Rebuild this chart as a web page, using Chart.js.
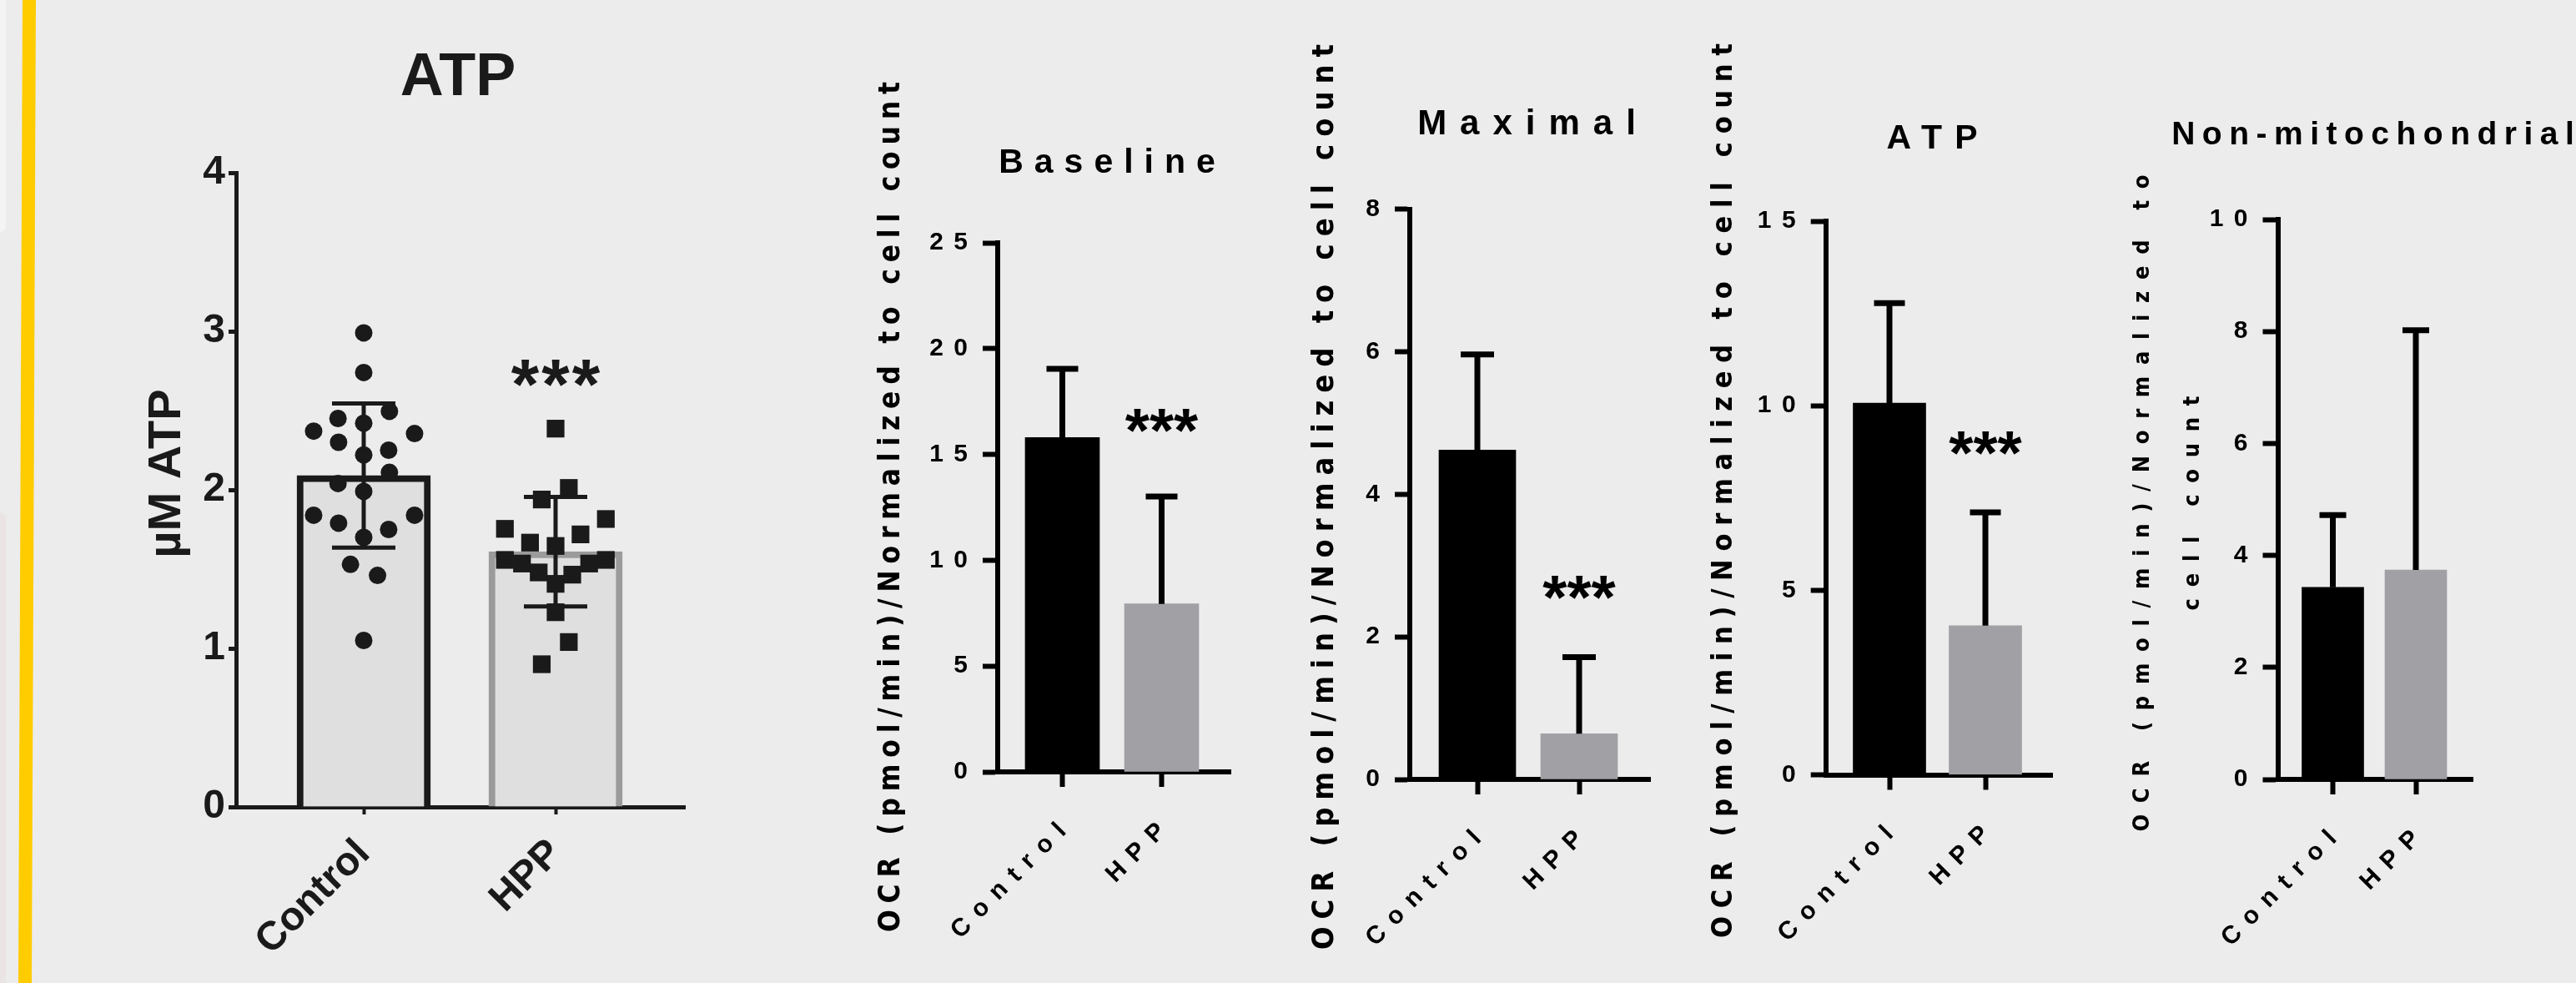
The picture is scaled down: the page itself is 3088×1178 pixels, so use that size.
<!DOCTYPE html>
<html lang="en">
<head>
<meta charset="utf-8">
<title>ATP and OCR</title>
<script src="https://cdn.jsdelivr.net/npm/chart.js@4/dist/chart.umd.min.js"></script>
<style>
html, body { margin:0; padding:0; width:3088px; height:1178px; overflow:hidden; background:#ececec; }
body { position:relative; }
.deco { position:absolute; }
canvas { position:absolute; top:0; }
</style>
</head>
<body>
<div class="deco" style="left:0;top:0;width:7px;height:278px;background:#f4f4f4;border-bottom-right-radius:10px;"></div>
<div class="deco" style="left:0;top:614px;width:7px;height:564px;background:#ebe4e4;border-top-right-radius:10px;"></div>
<div class="deco" style="left:0;top:0;width:60px;height:1178px;background:#ffcc00;clip-path:polygon(27px 0,43px 0,38px 1178px,22px 1178px);"></div>
<canvas id="c1"></canvas>
<canvas id="c2"></canvas>
<canvas id="c3"></canvas>
<canvas id="c4"></canvas>
<canvas id="c5"></canvas>
<script>
// ================= DATA =================
const categories = ['Control', 'HPP'];
const sigText = ['', '***'];

// Panel: ATP (µM), mean ± SD with individual values
const atpTicks = [0, 1, 2, 3, 4];
const atpMean = [2.09, 1.61];
const atpSD = [0.455, 0.345];
const atpControlValues = [2.99, 2.74, 2.495, 2.45, 2.42, 2.37, 2.355, 2.30, 2.25, 2.22, 2.11, 2.04, 1.99, 1.84, 1.84, 1.79, 1.75, 1.70, 1.53, 1.46, 1.05];
const atpControlJitter = [0, 0, 0.134, -0.134, 0, -0.261, 0.265, -0.131, 0.13, 0, 0.134, -0.134, 0, -0.261, 0.265, -0.131, 0.13, 0, -0.069, 0.072, 0];
const atpHppValues = [2.386, 2.012, 1.939, 1.816, 1.754, 1.719, 1.667, 1.646, 1.558, 1.558, 1.535, 1.535, 1.479, 1.465, 1.407, 1.228, 1.040, 0.900];
const atpHppJitter = [0, 0.069, -0.072, 0.262, -0.264, 0.130, -0.133, 0, -0.264, 0.262, -0.175, 0.175, -0.088, 0.087, 0, 0, 0.069, -0.072];
const atpSigAt = [null, 2.73];

// OCR panels (mean + SD)
const baselineTicks = [0, 5, 10, 15, 20, 25];
const baselineMean = [15.8, 7.94];
const baselineSD = [3.25, 5.07];
const baselineSigAt = [null, 16.56];

const maximalTicks = [0, 2, 4, 6, 8];
const maximalMean = [4.62, 0.64];
const maximalSD = [1.34, 1.075];
const maximalSigAt = [null, 2.68];

const atpOcrTicks = [0, 5, 10, 15];
const atpOcrMean = [10.07, 4.04];
const atpOcrSD = [2.71, 3.07];
const atpOcrSigAt = [null, 8.96];

const nonMitoTicks = [0, 2, 4, 6, 8, 10];
const nonMitoMean = [3.43, 3.74];
const nonMitoSD = [1.29, 4.28];
const nonMitoSigAt = [null, null];

const ocrAxisTitle = 'OCR (pmol/min)/Normalized to cell count';
const ocrAxisTitleWrapped = ['OCR (pmol/min)/Normalized to', 'cell count'];

// ================= STYLE / LAYOUT =================
const FONT = "'Liberation Sans', Arial, Helvetica, sans-serif";
const NARROW = "'Liberation Sans Narrow', 'Arial Narrow', 'DejaVu Sans Condensed', 'Liberation Sans', sans-serif";
const PAGE_H = 1178;
Chart.defaults.font.family = FONT;

function wrapDraw(obj, name, pre) {
  const orig = obj[name];
  obj[name] = function (...args) {
    const ctx = this.ctx;
    ctx.save();
    pre(ctx, this);
    try { return orig.apply(this, args); } finally { ctx.restore(); }
  };
}

const spacingPlugin = {
  id: 'spacing',
  beforeDraw(chart, args, o) {
    if (chart.$spacingDone) return;
    chart.$spacingDone = true;
    const xs = chart.scales.x, ys = chart.scales.y;
    const s = o.tick || 0;
    if (s) {
      wrapDraw(xs, 'drawLabels', ctx => { ctx.letterSpacing = s + 'px'; ctx.translate(s * Math.SQRT1_2, -s * Math.SQRT1_2); });
      wrapDraw(ys, 'drawLabels', ctx => { ctx.letterSpacing = s + 'px'; ctx.translate(s, 0); });
    }
    const ts = o.title || 0;
    if (chart.titleBlock) wrapDraw(chart.titleBlock, 'draw', ctx => { ctx.letterSpacing = ts + 'px'; ctx.translate(ts / 2, 0); });
    wrapDraw(ys, 'drawTitle', (ctx, sc) => {
      const t = sc.options.title, f = t.font;
      const lines = Array.isArray(t.text) ? t.text : [t.text];
      let sp = 0;
      if (o.yTitleLen) {
        ctx.font = `${f.style || 'normal'} ${f.weight || 'normal'} ${f.size}px ${f.family}`;
        ctx.letterSpacing = '0px';
        const w = ctx.measureText(lines[0]).width;
        sp = (o.yTitleLen - w) / (Array.from(lines[0]).length - 1);
      }
      ctx.letterSpacing = sp + 'px';
      const cy = (sc.top + sc.bottom) / 2;
      ctx.translate(0, o.yTitleCy - sp / 2 - cy);
    });
  }
};

const errPlugin = {
  id: 'errbars',
  afterDatasetsDraw(chart, args, o) {
    const ctx = chart.ctx, xs = chart.scales.x, ys = chart.scales.y;
    ctx.save();
    ctx.strokeStyle = o.color;
    ctx.lineWidth = o.width;
    ctx.lineCap = 'butt';
    o.mean.forEach((m, i) => {
      const x = xs.getPixelForValue(i);
      const yT = ys.getPixelForValue(m + o.sd[i]);
      const yB = ys.getPixelForValue(o.both ? m - o.sd[i] : m);
      ctx.beginPath();
      ctx.moveTo(x, yB); ctx.lineTo(x, yT);
      ctx.moveTo(x - o.cap / 2, yT); ctx.lineTo(x + o.cap / 2, yT);
      if (o.both) { ctx.moveTo(x - o.cap / 2, yB); ctx.lineTo(x + o.cap / 2, yB); }
      ctx.stroke();
    });
    ctx.restore();
  }
};

const sigPlugin = {
  id: 'sig',
  afterDatasetsDraw(chart, args, o) {
    if (!o.text) return;
    const ctx = chart.ctx, xs = chart.scales.x, ys = chart.scales.y;
    ctx.save();
    ctx.font = `bold ${o.size}px ${FONT}`;
    ctx.fillStyle = o.color;
    ctx.textAlign = 'center';
    ctx.textBaseline = 'alphabetic';
    ctx.letterSpacing = (o.spacing || 0) + 'px';
    o.text.forEach((t, i) => {
      if (!t || o.at[i] == null) return;
      const x = xs.getPixelForValue(i) + (o.spacing || 0) / 2;
      const y = ys.getPixelForValue(o.at[i]) + o.size * 0.48;
      ctx.fillText(t, x, y);
    });
    ctx.restore();
  }
};

function buildPanel(p) {
  const f = p.frame, st = p.style;
  const cl = f.cl, cr = 2 * f.titleCx - cl, W = cr - cl;
  const canvas = document.getElementById(p.id);
  canvas.width = W; canvas.height = PAGE_H; canvas.style.left = cl + 'px';
  const n = categories.length;
  const unit = f.cat[1] - f.cat[0];
  const xMin = -(f.cat[0] - f.plot.l) / unit;
  const xMax = (n - 1) + (f.plot.r - f.cat[n - 1]) / unit;
  const tLH = st.titleFont.size * 1.2;
  const tPadTop = f.titleCy - tLH / 2;
  const tPadBottom = f.plot.t - tPadTop - tLH;
  const yLH = st.yTitleLH || st.yTitleFont.size * 1.2;
  const yPadTop = f.yTitleCx - cl - yLH / 2;

  const datasets = [];
  (p.points || []).forEach((g, gi) => {
    datasets.push({
      type: 'scatter', xAxisID: 'x', yAxisID: 'y', order: 0,
      data: g.values.map((v, k) => ({ x: g.cat + g.jitter[k], y: v })),
      pointStyle: st.pointStyles[gi], pointRadius: st.pointRadii[gi], pointHoverRadius: st.pointRadii[gi],
      pointBackgroundColor: st.color, pointBorderWidth: 0
    });
  });
  datasets.push({
    type: 'bar', xAxisID: 'x', yAxisID: 'y', order: 1,
    data: categories.map((c, i) => ({ x: i, y: p.mean[i] })),
    backgroundColor: st.barFill, borderColor: st.barBorder, borderWidth: st.barBorderWidth,
    borderSkipped: 'start', barThickness: st.barWidth
  });

  return new Chart(canvas, {
    type: 'bar',
    data: { datasets },
    options: {
      responsive: false, animation: false, events: [],
      layout: { padding: 0 },
      plugins: {
        legend: { display: false },
        tooltip: { enabled: false },
        title: { display: true, fullSize: true, text: p.title, color: st.color,
                 font: Object.assign({}, st.titleFont, { lineHeight: 1.2 }),
                 padding: { top: tPadTop, bottom: tPadBottom } },
        errbars: { mean: p.mean, sd: p.sd, both: st.errBoth, cap: st.errCap, width: st.errWidth, color: st.color },
        sig: { text: p.sig ? sigText : null, at: p.sigAt, size: st.sigSize, spacing: st.sigSpacing, color: st.color },
        spacing: { tick: st.tickSpacing, title: st.titleSpacing, yTitleLen: f.yTitleLen || 0, yTitleCy: f.yTitleCy }
      },
      scales: {
        x: {
          type: 'linear', position: 'bottom', min: xMin, max: xMax, offset: false,
          afterBuildTicks: s => { s.ticks = categories.map((c, i) => ({ value: i })); },
          afterFit: s => { s.height = PAGE_H - f.plot.b; },
          ticks: { autoSkip: false, minRotation: 45, maxRotation: 45, padding: st.xPad, color: st.color, font: st.tickFont,
                   callback: v => categories[v] },
          grid: { display: true, offset: false, drawOnChartArea: false, drawTicks: true, tickLength: st.xTickLen, tickWidth: st.xTickWidth, tickColor: st.color },
          border: { display: true, width: st.lw, color: st.color }
        },
        y: {
          type: 'linear', position: 'left', min: p.ticks[0], max: p.ticks[p.ticks.length - 1],
          afterBuildTicks: s => { s.ticks = p.ticks.map(v => ({ value: v })); },
          afterFit: s => { s.width = f.plot.l - cl; },
          ticks: { padding: st.yPad, color: st.color, font: st.tickFont, callback: v => String(v) },
          grid: { display: true, offset: false, drawOnChartArea: false, drawTicks: true, tickLength: st.yTickLen, tickWidth: st.yTickWidth, tickColor: st.color },
          border: { display: true, width: st.lw, color: st.color },
          title: { display: true, text: p.yTitle, color: st.color,
                   font: Object.assign({}, st.yTitleFont, { lineHeight: st.yTitleLH ? st.yTitleLH + 'px' : 1.2 }),
                   padding: { top: yPadTop, bottom: 0 } }
        },
        sp: {
          type: 'linear', position: 'right', display: true,
          grid: { display: false, drawTicks: false }, border: { display: false }, ticks: { display: false },
          afterFit: s => { s.width = cr - f.plot.r; }
        }
      }
    },
    plugins: [spacingPlugin, errPlugin, sigPlugin]
  });
}

function ocrStyle(o) {
  return Object.assign({
    color: '#000000',
    tickFont: { size: 30, weight: 'bold', family: FONT },
    tickSpacing: 12.5,
    xTickLen: 18, xTickWidth: 6, xPad: 36,
    yTickLen: 18, yTickWidth: 6, yPad: 18,
    lw: 6,
    barFill: ['#000000', '#a1a0a5'], barBorder: ['#000000', '#a1a0a5'], barBorderWidth: 0,
    errBoth: false, errWidth: 7,
    sigSize: 75, sigSpacing: 0,
    pointStyles: [], pointRadii: []
  }, o);
}

const panels = [
  {
    id: 'c1', title: 'ATP', yTitle: 'µM ATP', ticks: atpTicks, mean: atpMean, sd: atpSD, sig: true, sigAt: atpSigAt,
    points: [
      { values: atpControlValues, jitter: atpControlJitter, cat: 0 },
      { values: atpHppValues, jitter: atpHppJitter, cat: 1 }
    ],
    frame: { cl: 150, titleCx: 549, titleCy: 94, plot: { l: 283, r: 821, t: 207, b: 967 }, cat: [436, 666], yTitleCx: 201, yTitleCy: 567.5 },
    style: {
      color: '#1a1a1a',
      titleFont: { size: 72, weight: 'bold', family: FONT }, titleSpacing: 0,
      yTitleFont: { size: 56, weight: 'bold', family: FONT },
      tickFont: { size: 48, weight: 'bold', family: FONT }, tickSpacing: 0,
      xTickLen: 9, xTickWidth: 4, xPad: 19, yTickLen: 9, yTickWidth: 5, yPad: 4, lw: 5,
      barFill: ['#dfdfdf', '#dfdfdf'], barBorder: ['#1a1a1a', '#9b9b9b'], barBorderWidth: 8, barWidth: 160,
      errBoth: true, errCap: 76, errWidth: 5,
      sigSize: 86, sigSpacing: 3,
      pointStyles: ['circle', 'rect'], pointRadii: [10.5, 15]
    }
  },
  {
    id: 'c2', title: 'Baseline', yTitle: ocrAxisTitle, ticks: baselineTicks, mean: baselineMean, sd: baselineSD, sig: true, sigAt: baselineSigAt,
    frame: { cl: 1040, titleCx: 1327, titleCy: 196, plot: { l: 1196, r: 1475, t: 291, b: 925 }, cat: [1273.5, 1392.5], yTitleCx: 1069, yTitleCy: 607.5, yTitleLen: 1019 },
    style: ocrStyle({ titleFont: { size: 41, weight: 'bold', family: FONT }, titleSpacing: 13,
      yTitleFont: { size: 35, weight: 'bold', family: NARROW }, barWidth: 89, errCap: 38 })
  },
  {
    id: 'c3', title: 'Maximal', yTitle: ocrAxisTitle, ticks: maximalTicks, mean: maximalMean, sd: maximalSD, sig: true, sigAt: maximalSigAt,
    frame: { cl: 1560, titleCx: 1830, titleCy: 149.6, plot: { l: 1690, r: 1978, t: 250.5, b: 934 }, cat: [1771, 1893], yTitleCx: 1589, yTitleCy: 595.5, yTitleLen: 1085 },
    style: ocrStyle({ titleFont: { size: 42, weight: 'bold', family: FONT }, titleSpacing: 16,
      yTitleFont: { size: 36, weight: 'bold', family: NARROW }, barWidth: 92, errCap: 40 })
  },
  {
    id: 'c4', title: 'ATP', yTitle: ocrAxisTitle, ticks: atpOcrTicks, mean: atpOcrMean, sd: atpOcrSD, sig: true, sigAt: atpOcrSigAt,
    frame: { cl: 2040, titleCx: 2316, titleCy: 166.4, plot: { l: 2188.7, r: 2460, t: 265, b: 928.5 }, cat: [2265, 2380], yTitleCx: 2067, yTitleCy: 588, yTitleLen: 1072 },
    style: ocrStyle({ titleFont: { size: 41, weight: 'bold', family: FONT }, titleSpacing: 15,
      yTitleFont: { size: 34, weight: 'bold', family: NARROW }, barWidth: 87, errCap: 37 })
  },
  {
    id: 'c5', title: 'Non-mitochondrial', yTitle: ocrAxisTitleWrapped, ticks: nonMitoTicks, mean: nonMitoMean, sd: nonMitoSD, sig: false, sigAt: nonMitoSigAt,
    frame: { cl: 2530, titleCx: 2844.5, titleCy: 162.5, plot: { l: 2730.5, r: 2964.7, t: 263, b: 934 }, cat: [2796.5, 2896], yTitleCx: 2569, yTitleCy: 603, yTitleLen: 787 },
    style: ocrStyle({ titleFont: { size: 39, weight: 'bold', family: FONT }, titleSpacing: 8.5,
      yTitleFont: { size: 27, weight: 'bold', family: NARROW }, yTitleLH: 60, barWidth: 74, errCap: 32 })
  }
];

panels.forEach(buildPanel);
</script>
</body>
</html>
